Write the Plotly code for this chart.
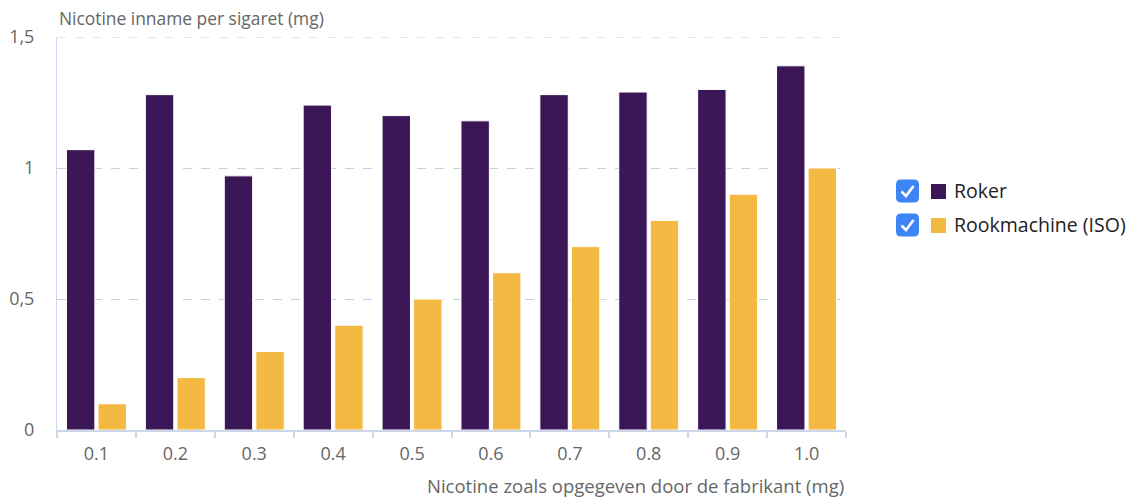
import plotly.graph_objects as go

categories = ["0.1", "0.2", "0.3", "0.4", "0.5", "0.6", "0.7", "0.8", "0.9", "1.0"]
roker = [1.07, 1.28, 0.97, 1.24, 1.20, 1.18, 1.28, 1.29, 1.30, 1.39]
rookmachine = [0.1, 0.2, 0.3, 0.4, 0.5, 0.6, 0.7, 0.8, 0.9, 1.0]
series_names = ["Roker", "Rookmachine (ISO)"]
series_colors = ["#3c1757", "#f4b942"]
ytick_vals = [0, 0.5, 1, 1.5]
ytick_text = ["0", "0,5", "1", "1,5"]

FONT = "Open Sans"
GRAY = "#666666"
AXIS = "#ccd6eb"
GRID = "#c7d0e0"

fig = go.Figure()
for name, vals, col in zip(series_names, [roker, rookmachine], series_colors):
    fig.add_trace(go.Bar(x=categories, y=vals, name=name,
                         marker=dict(color=col, line=dict(color="white", width=1))))

W, H = 1132, 498
L, R, T, B = 57, 286, 37, 68
pw, ph = W - L - R, H - T - B


def px2x(px):
    return (px - L) / pw


def px2y(py):
    return (H - B - py) / ph


shapes = [dict(type="line", xref="paper", yref="y", x0=0, x1=1,
               y0=ytick_vals[-1], y1=ytick_vals[-1],
               line=dict(color=GRID, width=1, dash="dash"), layer="below")]
annotations = []
for i, cy in enumerate((191, 225)):
    # checkbox
    x0, x1 = px2x(896), px2x(919)
    y0, y1 = px2y(cy + 11.5), px2y(cy - 11.5)
    rx, ry = 5 / pw, 5 / ph
    path = (f"M {x0+rx},{y0} L {x1-rx},{y0} Q {x1},{y0} {x1},{y0+ry} "
            f"L {x1},{y1-ry} Q {x1},{y1} {x1-rx},{y1} L {x0+rx},{y1} "
            f"Q {x0},{y1} {x0},{y1-ry} L {x0},{y0+ry} Q {x0},{y0} {x0+rx},{y0} Z")
    shapes.append(dict(type="path", xref="paper", yref="paper", path=path,
                       fillcolor="#3d84f5", line=dict(width=0), layer="above"))
    ck = (f"M {px2x(901.5)},{px2y(cy + 0.5)} L {px2x(906)},{px2y(cy + 5)} "
          f"L {px2x(913.5)},{px2y(cy - 5)}")
    shapes.append(dict(type="path", xref="paper", yref="paper", path=ck,
                       line=dict(color="white", width=2.6), layer="above"))
    # legend swatch
    shapes.append(dict(type="rect", xref="paper", yref="paper",
                       x0=px2x(931), x1=px2x(946), y0=px2y(cy + 8), y1=px2y(cy - 7),
                       fillcolor=series_colors[i], line=dict(width=0), layer="above"))
    annotations.append(dict(text=series_names[i], xref="paper", yref="paper",
                            x=px2x(952), y=px2y(cy), xanchor="left", yanchor="middle",
                            showarrow=False, font=dict(size=19.5, color="#222222")))

annotations += [
    dict(text="Nicotine inname per sigaret (mg)", xref="paper", yref="paper",
         x=0, y=px2y(18), xanchor="left", yanchor="middle", showarrow=False,
         font=dict(size=17.4, color=GRAY)),
    dict(text="Nicotine zoals opgegeven door de fabrikant (mg)", xref="paper",
         yref="paper", x=1, y=px2y(485), xanchor="right", yanchor="middle",
         showarrow=False, font=dict(size=18.5, color=GRAY)),
]

fig.update_layout(
    width=W, height=H,
    margin=dict(l=L, r=R, t=T, b=B, autoexpand=False),
    plot_bgcolor="white", paper_bgcolor="white",
    font=dict(family=FONT, color=GRAY, size=17),
    barmode="group", bargap=0.2, bargroupgap=0.1,
    showlegend=False,
    shapes=shapes,
    annotations=annotations,
)
fig.update_xaxes(showline=True, linecolor=AXIS, linewidth=2, ticks="outside",
                 tickson="boundaries", ticklen=6, tickcolor=AXIS, tickwidth=2,
                 showgrid=False, ticklabelstandoff=6, automargin=False,
                 tickfont=dict(size=18, color=GRAY))
fig.update_yaxes(range=[0, 1.5], tickvals=ytick_vals, ticktext=ytick_text,
                 showline=True, linecolor=AXIS, linewidth=1, automargin=False,
                 showgrid=True, gridcolor=GRID, griddash="dash", gridwidth=1,
                 zeroline=False, ticks="", ticklabelstandoff=18,
                 tickfont=dict(size=18, color=GRAY))

fig.write_html("out.html", config={"displayModeBar": False},
               post_script="document.body.style.margin='0';document.body.style.overflow='hidden';")
